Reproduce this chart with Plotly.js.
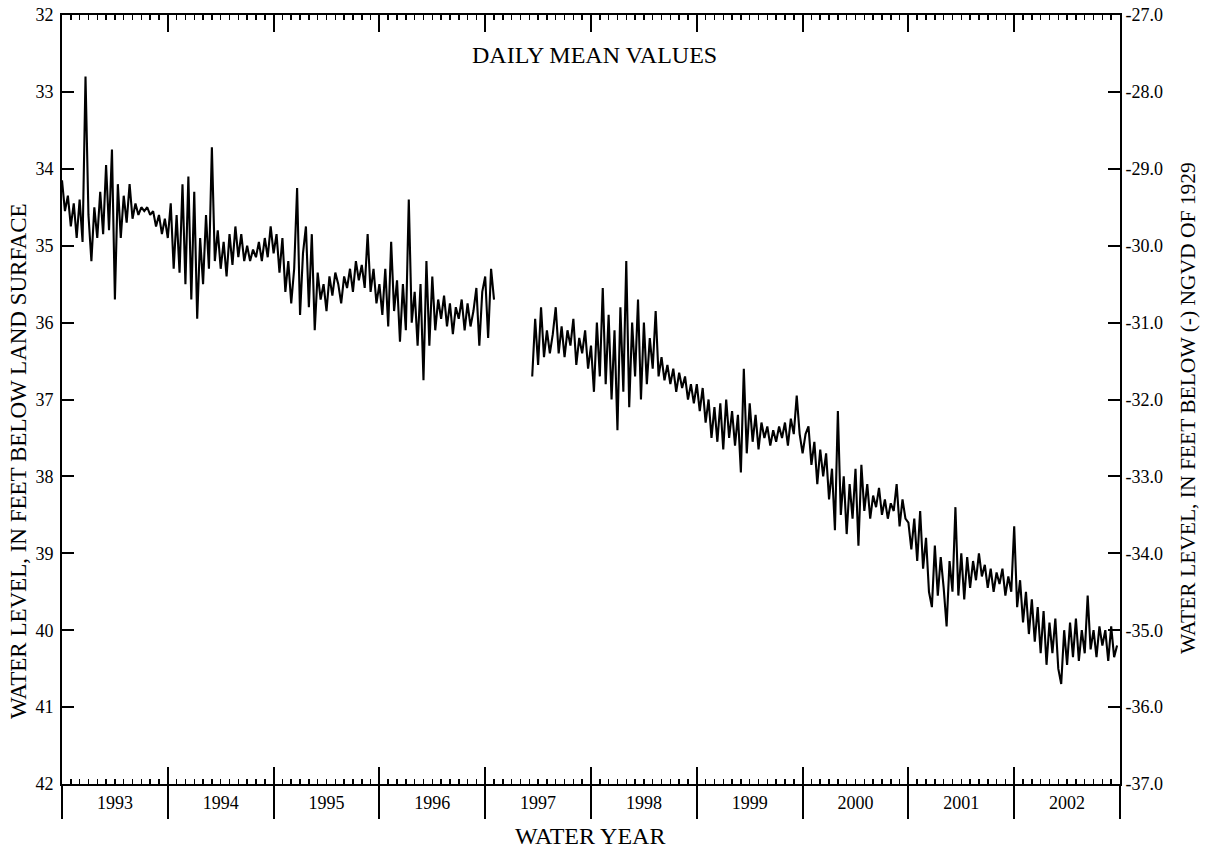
<!DOCTYPE html>
<html>
<head>
<meta charset="utf-8">
<script src="https://cdn.plot.ly/plotly-3.0.1.min.js"></script>
<style>html,body{margin:0;padding:0;background:#fff;}#chart{width:1205px;height:849px;}</style>
</head>
<body>
<div id="chart"></div>
<script>
// Water years shown on the chart (each spans Oct 1 .. Sep 30)
const waterYears = [1993, 1994, 1995, 1996, 1997, 1998, 1999, 2000, 2001, 2002];
const yearLabels = ["1993", "1994", "1995", "1996", "1997", "1998", "1999", "2000", "2001", "2002"];
// Readings per water year (about every 10 days), water level in feet below land surface
const samplesPerYear = 36;
const wy1993 = [34.15,34.55,34.35,34.75,34.45,34.9,34.4,34.95,32.8,34.6,35.2,34.5,34.9,34.3,34.85,33.95,34.8,33.75,35.7,34.2,34.9,34.35,34.7,34.2,34.65,34.45,34.6,34.5,34.55,34.5,34.6,34.55,34.75,34.6,34.85,34.65];
const wy1994 = [34.9,34.45,35.3,34.6,35.35,34.2,35.5,34.1,35.7,34.3,35.95,34.9,35.5,34.6,35.3,33.72,35.2,34.8,35.3,34.95,35.4,34.85,35.25,34.75,35.15,34.85,35.2,35.0,35.2,35.05,35.15,34.95,35.2,34.9,35.15,34.75];
const wy1995 = [35.1,34.85,35.35,34.9,35.6,35.2,35.75,35.3,34.25,35.9,35.1,34.75,35.8,34.85,36.1,35.35,35.7,35.5,35.85,35.4,35.65,35.35,35.5,35.75,35.4,35.55,35.3,35.6,35.2,35.45,35.25,35.55,34.85,35.6,35.3,35.75];
const wy1996 = [35.5,35.9,35.3,36.05,34.95,35.85,35.45,36.25,35.5,36.1,34.4,36.0,35.6,36.3,35.5,36.75,35.2,36.3,35.4,36.1,35.7,35.95,35.65,36.05,35.75,36.15,35.8,35.95,35.7,36.1,35.75,36.05,35.85,35.55,36.3,35.6];
const wy1997 = [35.4,36.2,35.3,35.7,null,null,null,null,null,null,null,null,null,null,null,null,36.7,35.95,36.55,35.8,36.45,36.1,36.4,36.15,35.8,36.4,36.05,36.45,36.1,36.3,35.95,36.55,36.2,36.4,36.1,36.6];
const wy1998 = [36.3,36.9,36.0,36.7,35.55,36.8,35.9,37.0,36.1,37.4,35.8,36.9,35.2,37.1,36.0,36.7,35.7,37.0,36.0,36.8,36.2,36.6,35.85,36.7,36.45,36.75,36.55,36.8,36.6,36.9,36.65,36.85,36.7,37.0,36.8,37.05];
const wy1999 = [36.8,37.15,36.85,37.3,37.0,37.5,37.1,37.55,37.05,37.65,37.0,37.5,37.15,37.6,37.2,37.95,36.6,37.7,37.05,37.55,37.2,37.65,37.3,37.5,37.35,37.6,37.4,37.55,37.35,37.5,37.3,37.6,37.25,37.45,36.95,37.45];
const wy2000 = [37.7,37.45,37.35,37.85,37.55,38.1,37.65,38.0,37.7,38.3,37.9,38.7,37.15,38.5,38.0,38.75,38.1,38.55,37.9,38.9,37.85,38.45,38.1,38.55,38.25,38.4,38.15,38.5,38.3,38.55,38.35,38.45,38.1,38.65,38.3,38.55];
const wy2001 = [38.6,38.95,38.55,39.1,38.45,39.2,38.8,39.5,39.7,38.9,39.55,39.05,39.45,39.95,39.1,39.5,38.4,39.55,39.0,39.6,39.05,39.45,39.1,39.35,39.0,39.3,39.15,39.45,39.2,39.5,39.25,39.4,39.2,39.55,39.3,39.5];
const wy2002 = [38.65,39.7,39.35,39.9,39.5,40.05,39.6,40.15,39.7,40.3,39.75,40.45,39.9,40.3,39.85,40.5,40.7,40.0,40.45,39.9,40.35,39.85,40.4,40.0,40.3,39.55,40.25,40.0,40.35,39.95,40.2,40.0,40.4,39.95,40.35,40.2];
const seriesByYear = [wy1993, wy1994, wy1995, wy1996, wy1997, wy1998, wy1999, wy2000, wy2001, wy2002];
// Left axis ticks (feet below land surface) and right axis ticks (feet below NGVD of 1929)
const leftTicks = [32, 33, 34, 35, 36, 37, 38, 39, 40, 41, 42];
const rightTicks = [-27, -28, -29, -30, -31, -32, -33, -34, -35, -36, -37];
const rightTickLabels = ["-27.0", "-28.0", "-29.0", "-30.0", "-31.0", "-32.0", "-33.0", "-34.0", "-35.0", "-36.0", "-37.0"];
const yearBoundaries = [1992.5, 1993.5, 1994.5, 1995.5, 1996.5, 1997.5, 1998.5, 1999.5, 2000.5, 2001.5, 2002.5];

const xs = [], ys = [];
seriesByYear.forEach((vals, k) => {
  const start = waterYears[k] - 0.5;
  vals.forEach((v, i) => { xs.push(start + i / samplesPerYear); ys.push(v); });
});

const xRange = [1992.5, 2002.5];
const FONT = '"Liberation Serif", "Times New Roman", Times, serif';

const traces = [
  {x: xs, y: ys, type: 'scatter', mode: 'lines', line: {color: '#000', width: 2.1}, connectgaps: false, hoverinfo: 'skip', showlegend: false},
  {x: [null], y: [null], xaxis: 'x2', yaxis: 'y', type: 'scatter', mode: 'lines', hoverinfo: 'skip', showlegend: false},
  {x: [null], y: [null], xaxis: 'x3', yaxis: 'y', type: 'scatter', mode: 'lines', hoverinfo: 'skip', showlegend: false},
  {x: [null], y: [null], xaxis: 'x4', yaxis: 'y', type: 'scatter', mode: 'lines', hoverinfo: 'skip', showlegend: false},
  {x: [null], y: [null], xaxis: 'x', yaxis: 'y2', type: 'scatter', mode: 'lines', hoverinfo: 'skip', showlegend: false}
];

const minorTicks = {dtick: 1/12, ticks: 'inside', ticklen: 5, tickwidth: 1.5, tickcolor: '#000', showgrid: false};

const layout = {
  width: 1205, height: 849,
  margin: {l: 62, r: 85, t: 15, b: 65, pad: 0},
  paper_bgcolor: '#fff', plot_bgcolor: '#fff',
  font: {family: FONT, color: '#000', size: 17},
  showlegend: false,
  xaxis: {range: xRange, showline: true, linewidth: 2, linecolor: '#000', ticks: 'inside', ticklen: 17, tickwidth: 2, tickcolor: '#000',
          tickmode: 'array', tickvals: yearBoundaries, showticklabels: false, showgrid: false, zeroline: false, minor: minorTicks},
  xaxis2: {range: xRange, overlaying: 'x', side: 'top', anchor: 'y', showline: true, linewidth: 2, linecolor: '#000', ticks: 'inside', ticklen: 17, tickwidth: 2, tickcolor: '#000',
          tickmode: 'array', tickvals: yearBoundaries, showticklabels: false, showgrid: false, zeroline: false, minor: minorTicks},
  xaxis3: {range: xRange, overlaying: 'x', side: 'bottom', anchor: 'y', showline: false, ticks: 'outside', ticklen: 34, tickwidth: 2, tickcolor: '#000',
          tickmode: 'array', tickvals: yearBoundaries, showticklabels: false, showgrid: false, zeroline: false},
  xaxis4: {range: xRange, overlaying: 'x', side: 'bottom', anchor: 'y', showline: false, ticks: '', tickmode: 'array', tickvals: waterYears, ticktext: yearLabels,
          tickfont: {family: FONT, size: 18, color: '#000'}, ticklabelstandoff: 6, showgrid: false, zeroline: false},
  yaxis: {range: [42, 32], tickmode: 'array', tickvals: leftTicks, ticktext: leftTicks.map(String), ticks: 'inside', ticklen: 12, tickwidth: 2, tickcolor: '#000',
          showline: true, linewidth: 2, linecolor: '#000', showgrid: false, zeroline: false, ticklabelstandoff: 3, tickfont: {family: FONT, size: 18, color: '#000'}},
  yaxis2: {range: [-37, -27], overlaying: 'y', side: 'right', anchor: 'x', tickmode: 'array', tickvals: rightTicks, ticktext: rightTickLabels,
          ticks: 'inside', ticklen: 12, tickwidth: 2, tickcolor: '#000', showline: true, linewidth: 2, linecolor: '#000', showgrid: false, zeroline: false,
          tickfont: {family: FONT, size: 18, color: '#000'}},
  annotations: [
    {text: 'DAILY MEAN VALUES', xref: 'paper', yref: 'paper', x: 0.503, y: 0.948, xanchor: 'center', yanchor: 'middle', showarrow: false, font: {family: FONT, size: 24, color: '#000'}},
    {text: 'WATER YEAR', xref: 'paper', yref: 'paper', x: 0.499, y: -0.0676, xanchor: 'center', yanchor: 'middle', showarrow: false, font: {family: FONT, size: 24, color: '#000'}},
    {text: 'WATER LEVEL, IN FEET BELOW LAND SURFACE', xref: 'paper', yref: 'paper', x: -0.0416, y: 0.42, xanchor: 'center', yanchor: 'middle', textangle: -90, showarrow: false, font: {family: FONT, size: 23, color: '#000'}},
    {text: 'WATER LEVEL, IN FEET BELOW (-) NGVD OF 1929', xref: 'paper', yref: 'paper', x: 1.0643, y: 0.489, xanchor: 'center', yanchor: 'middle', textangle: -90, showarrow: false, font: {family: FONT, size: 21.5, color: '#000'}}
  ]
};

Plotly.newPlot('chart', traces, layout, {staticPlot: true, displayModeBar: false});
</script>
</body>
</html>
